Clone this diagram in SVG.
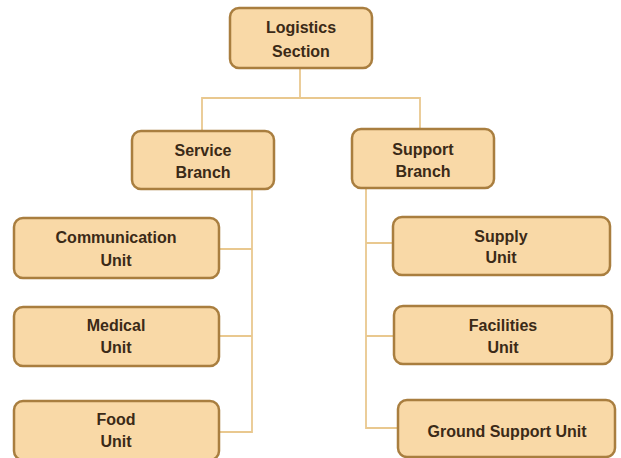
<svg xmlns="http://www.w3.org/2000/svg" width="621" height="458" viewBox="0 0 621 458">
<style>
.box{fill:#f9d9a7;stroke:#a97e3f;stroke-width:2.5}
.lbl{font-family:"Liberation Sans",Arial,sans-serif;font-weight:bold;font-size:16px;fill:#3b2a17;text-anchor:middle}
.conn{fill:none;stroke:#e9c88f;stroke-width:1.8}
</style>
<rect width="621" height="458" fill="#ffffff"/>
<g id="connectors">
<path class="conn" d="M300,68 V98 M202,131 V98 H420 V129"/>
<path class="conn" d="M252,189 V432 H219 M219,249 H252 M219,336 H252"/>
<path class="conn" d="M366,188 V428 H398 M366,243 H393 M366,336 H394"/>
</g>
<g id="logistics">
<rect class="box" x="230" y="8" width="142" height="60" rx="9"/>
<text class="lbl" x="301" y="33">Logistics</text>
<text class="lbl" x="301" y="57">Section</text>
</g>
<g id="service">
<rect class="box" x="132" y="131" width="142" height="58" rx="9"/>
<text class="lbl" x="203" y="156">Service</text>
<text class="lbl" x="203" y="178">Branch</text>
</g>
<g id="support">
<rect class="box" x="352" y="129" width="142" height="59" rx="9"/>
<text class="lbl" x="423" y="155">Support</text>
<text class="lbl" x="423" y="177">Branch</text>
</g>
<g id="communication">
<rect class="box" x="14" y="218" width="205" height="60" rx="9"/>
<text class="lbl" x="116" y="243">Communication</text>
<text class="lbl" x="116" y="266">Unit</text>
</g>
<g id="medical">
<rect class="box" x="14" y="307" width="205" height="59" rx="9"/>
<text class="lbl" x="116" y="331">Medical</text>
<text class="lbl" x="116" y="353">Unit</text>
</g>
<g id="food">
<rect class="box" x="14" y="401" width="205" height="59" rx="9"/>
<text class="lbl" x="116" y="425">Food</text>
<text class="lbl" x="116" y="447">Unit</text>
</g>
<g id="supply">
<rect class="box" x="393" y="217" width="217" height="58" rx="9"/>
<text class="lbl" x="501" y="242">Supply</text>
<text class="lbl" x="501" y="263">Unit</text>
</g>
<g id="facilities">
<rect class="box" x="394" y="306" width="218" height="58" rx="9"/>
<text class="lbl" x="503" y="331">Facilities</text>
<text class="lbl" x="503" y="353">Unit</text>
</g>
<g id="ground">
<rect class="box" x="398" y="400" width="217" height="57" rx="9"/>
<text class="lbl" x="507" y="437">Ground Support Unit</text>
</g>
</svg>
